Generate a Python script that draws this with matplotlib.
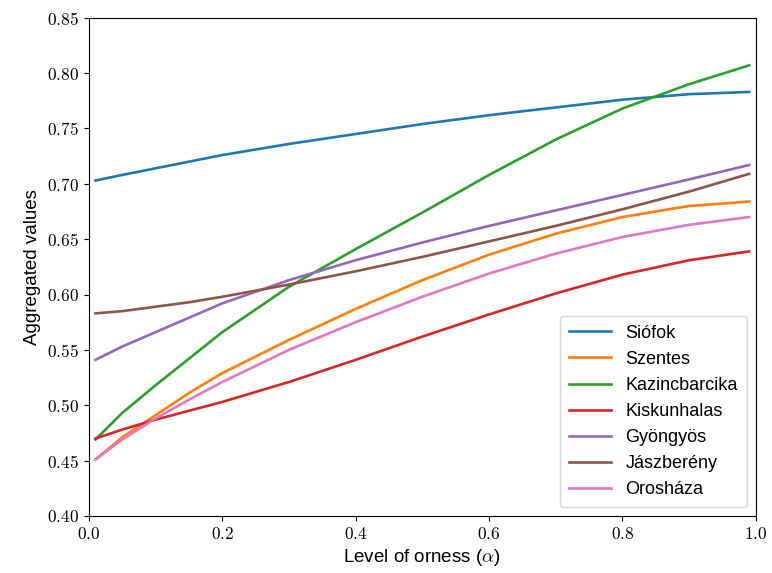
import numpy as np
import matplotlib
matplotlib.use("Agg")
import matplotlib.pyplot as plt
from matplotlib.ticker import FuncFormatter

plt.rcParams['mathtext.fontset'] = 'cm'
plt.rcParams['font.family'] = ['Liberation Sans', 'DejaVu Sans']

# level of orness (alpha) where the curves were read
alpha = [0.01, 0.05, 0.1, 0.15, 0.2, 0.3, 0.4, 0.5, 0.6, 0.7, 0.8, 0.9, 0.99]

siofok = [0.703, 0.708, 0.714, 0.720, 0.726, 0.736, 0.745, 0.754, 0.762, 0.769, 0.776, 0.781, 0.783]
szentes = [0.451, 0.471, 0.491, 0.511, 0.529, 0.559, 0.587, 0.613, 0.636, 0.655, 0.670, 0.680, 0.684]
kazincbarcika = [0.469, 0.493, 0.518, 0.542, 0.566, 0.607, 0.641, 0.674, 0.708, 0.740, 0.768, 0.790, 0.807]
kiskunhalas = [0.470, 0.478, 0.487, 0.495, 0.503, 0.521, 0.541, 0.562, 0.582, 0.601, 0.618, 0.631, 0.639]
gyongyos = [0.541, 0.553, 0.566, 0.579, 0.592, 0.613, 0.631, 0.647, 0.662, 0.676, 0.690, 0.704, 0.717]
jaszbereny = [0.583, 0.585, 0.589, 0.593, 0.598, 0.609, 0.621, 0.634, 0.648, 0.662, 0.677, 0.693, 0.709]
oroshaza = [0.451, 0.469, 0.488, 0.505, 0.521, 0.550, 0.575, 0.598, 0.619, 0.637, 0.652, 0.663, 0.670]

names = ["Siófok", "Szentes", "Kazincbarcika", "Kiskunhalas", "Gyöngyös", "Jászberény", "Orosháza"]
series = [siofok, szentes, kazincbarcika, kiskunhalas, gyongyos, jaszbereny, oroshaza]

fig = plt.figure(figsize=(7.72, 5.73), dpi=100)
ax = fig.add_axes([0.115, 0.0995, 0.864, 0.8695])

for name, vals in zip(names, series):
    ax.plot(alpha, vals, label=name, linewidth=1.9)

ax.set_xlim(0, 1)
ax.set_ylim(0.40, 0.85)
ax.set_xticks([0.0, 0.2, 0.4, 0.6, 0.8, 1.0])
ax.set_yticks(np.arange(0.40, 0.851, 0.05))
ax.xaxis.set_major_formatter(FuncFormatter(lambda v, p: r"$%.1f$" % v))
ax.yaxis.set_major_formatter(FuncFormatter(lambda v, p: r"$%.2f$" % v))
ax.tick_params(labelsize=12.5)

ax.set_xlabel(r"Level of orness ($\alpha$)", fontsize=13.5)
ax.set_ylabel("Aggregated values", fontsize=13.5)
ax.legend(loc="lower right", fontsize=13, handlelength=2.3, borderpad=0.5)

fig.savefig("out.png", dpi=100)
